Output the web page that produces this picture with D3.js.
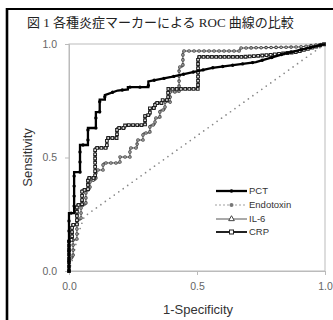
<!DOCTYPE html>
<html>
<head>
<meta charset="utf-8">
<script src="https://cdn.jsdelivr.net/npm/d3@7/dist/d3.min.js"></script>
<style>
  body { margin: 0; background: #fff; }
  svg { display: block; }
</style>
</head>
<body>
<div id="app"></div>
<script>
// ROC curves (x = 1-Specificity, y = Sensitivity)
const pctFpr = [0, 0, 0.02, 0.02, 0.043, 0.043, 0.074, 0.074, 0.105, 0.105, 0.12, 0.12, 0.14, 0.14, 0.19, 0.23, 0.23, 0.31, 0.31, 0.4, 0.56, 0.73, 0.85, 1]
const pctTpr = [0, 0.255, 0.255, 0.436, 0.436, 0.555, 0.555, 0.63, 0.63, 0.7, 0.7, 0.755, 0.755, 0.775, 0.795, 0.8, 0.81, 0.81, 0.835, 0.855, 0.895, 0.92, 0.96, 1]

const endoFpr = [0, 0.016, 0.031, 0.047, 0.06, 1]
const endoTpr = [0, 0.06, 0.14, 0.2, 0.24, 1]

const il6Fpr = [0, 0, 0.016, 0.016, 0.031, 0.031, 0.047, 0.047, 0.066, 0.066, 0.082, 0.082, 0.105, 0.105, 0.133, 0.133, 0.199, 0.199, 0.238, 0.238, 0.266, 0.266, 0.289, 0.289, 0.316, 0.316, 0.336, 0.336, 0.355, 0.355, 0.375, 0.375, 0.395, 0.395, 0.43, 0.43, 0.445, 0.445, 0.668, 0.668, 0.902, 1]
const il6Tpr = [0, 0.057, 0.057, 0.137, 0.137, 0.225, 0.225, 0.291, 0.291, 0.357, 0.357, 0.4, 0.4, 0.445, 0.445, 0.476, 0.476, 0.502, 0.502, 0.542, 0.542, 0.577, 0.577, 0.608, 0.608, 0.643, 0.643, 0.674, 0.674, 0.709, 0.709, 0.744, 0.744, 0.789, 0.789, 0.899, 0.899, 0.969, 0.969, 0.982, 0.987, 1]

const crpFpr = [0, 0, 0.012, 0.012, 0.031, 0.031, 0.051, 0.051, 0.074, 0.074, 0.102, 0.102, 0.148, 0.148, 0.1875, 0.1875, 0.219, 0.219, 0.297, 0.297, 0.316, 0.316, 0.336, 0.336, 0.363, 0.363, 0.387, 0.387, 0.504, 0.504, 0.68, 0.785, 0.89, 1]
const crpTpr = [0, 0.137, 0.137, 0.203, 0.203, 0.291, 0.291, 0.357, 0.357, 0.41, 0.41, 0.542, 0.542, 0.586, 0.586, 0.63, 0.63, 0.643, 0.643, 0.687, 0.687, 0.718, 0.718, 0.74, 0.74, 0.753, 0.753, 0.802, 0.802, 0.943, 0.943, 0.952, 0.965, 1]

const tickValues = [0, 0.5, 1]
const seriesNames = ['PCT', 'Endotoxin', 'IL-6', 'CRP']
const titleText = '図 1 各種炎症マーカーによる ROC 曲線の比較'

const width = 333
const height = 320
const sans = '"Liberation Sans", Arial, sans-serif'

const svg = d3.select('#app').append('svg')
  .attr('width', width)
  .attr('height', height)
  .attr('viewBox', `0 0 ${width} ${height}`)

// frame of the figure (left + top edge)
svg.append('line').attr('x1', 7).attr('x2', 7).attr('y1', 8).attr('y2', height)
  .attr('stroke', '#000').attr('stroke-width', 2.6)
svg.append('line').attr('x1', 6).attr('x2', width).attr('y1', 9).attr('y2', 9)
  .attr('stroke', '#000').attr('stroke-width', 2)

svg.append('text')
  .attr('x', 27).attr('y', 27)
  .attr('font-family', '"Liberation Serif", "Noto Sans CJK JP", serif')
  .attr('font-size', 13)
  .attr('fill', '#222')
  .text(titleText)

const x = d3.scaleLinear().domain([0, 1]).range([69, 325])
const y = d3.scaleLinear().domain([0, 1]).range([271, 44])

// plot box
svg.append('rect')
  .attr('x', x(0)).attr('y', y(1))
  .attr('width', x(1) - x(0)).attr('height', y(0) - y(1))
  .attr('fill', 'none').attr('stroke', '#bbb').attr('stroke-width', 1)

const fmt = d3.format('.1f')
const yAxis = svg.append('g')
  .attr('transform', `translate(${x(0)},0)`)
  .call(d3.axisLeft(y).tickValues(tickValues).tickFormat(fmt).tickSize(4).tickPadding(8))
const xAxis = svg.append('g')
  .attr('transform', `translate(0,${y(0)})`)
  .call(d3.axisBottom(x).tickValues(tickValues).tickFormat(fmt).tickSize(4).tickPadding(8))

for (const g of [xAxis, yAxis]) {
  g.select('.domain').attr('stroke', '#bbb')
  g.selectAll('.tick line').attr('stroke', '#bbb')
  g.selectAll('.tick text')
    .attr('font-family', sans).attr('font-size', 10.5).attr('fill', '#666')
}

svg.append('text')
  .attr('x', 198).attr('y', 314)
  .attr('text-anchor', 'middle')
  .attr('font-family', sans).attr('font-size', 13).attr('fill', '#333')
  .text('1-Specificity')
svg.append('text')
  .attr('transform', `translate(32,${(y(0) + y(1)) / 2}) rotate(-90)`)
  .attr('text-anchor', 'middle')
  .attr('font-family', sans).attr('font-size', 13).attr('fill', '#333')
  .text('Sensitivity')

const line = d3.line().x((d) => x(d[0])).y((d) => y(d[1]))
const pts = (f, t) => f.map((v, i) => [v, t[i]])

const plot = svg.append('g')

// Endotoxin: dotted grey
plot.append('path')
  .attr('d', line(pts(endoFpr, endoTpr)))
  .attr('fill', 'none').attr('stroke', '#888').attr('stroke-width', 1.7)
  .attr('stroke-dasharray', '0 5.5').attr('stroke-linecap', 'round')

// IL-6: thin line with small markers
const il6d = line(pts(il6Fpr, il6Tpr))
plot.append('path').attr('d', il6d)
  .attr('fill', 'none').attr('stroke', '#444').attr('stroke-width', 1)
plot.append('path').attr('d', il6d)
  .attr('fill', 'none').attr('stroke', '#444').attr('stroke-width', 3.6)
  .attr('stroke-dasharray', '0 5').attr('stroke-linecap', 'round')
plot.append('path').attr('d', il6d)
  .attr('fill', 'none').attr('stroke', '#fff').attr('stroke-width', 1.4)
  .attr('stroke-dasharray', '0 5').attr('stroke-linecap', 'round')

// CRP: solid line with open squares
const crpd = line(pts(crpFpr, crpTpr))
plot.append('path').attr('d', crpd)
  .attr('fill', 'none').attr('stroke', '#222').attr('stroke-width', 1.6)
plot.append('path').attr('d', crpd)
  .attr('fill', 'none').attr('stroke', '#222').attr('stroke-width', 3.8)
  .attr('stroke-dasharray', '0 4.2').attr('stroke-linecap', 'square')
plot.append('path').attr('d', crpd)
  .attr('fill', 'none').attr('stroke', '#fff').attr('stroke-width', 1.6)
  .attr('stroke-dasharray', '0 4.2').attr('stroke-linecap', 'square')

// PCT: thick black with small dots
const pctd = line(pts(pctFpr, pctTpr))
plot.append('path').attr('d', pctd)
  .attr('fill', 'none').attr('stroke', '#000').attr('stroke-width', 2.3)
  .attr('stroke-linejoin', 'miter')
plot.append('path').attr('d', pctd)
  .attr('fill', 'none').attr('stroke', '#000').attr('stroke-width', 3.4)
  .attr('stroke-dasharray', '0 10').attr('stroke-linecap', 'round')

// legend
const legendY = [191, 205, 219, 232]
const lx0 = 216
const lx1 = 247
const legend = svg.append('g')
seriesNames.forEach((name, i) => {
  const g = legend.append('g').attr('transform', `translate(0,${legendY[i]})`)
  const ln = g.append('line').attr('x1', lx0).attr('x2', lx1).attr('y1', 0).attr('y2', 0)
  const cx = (lx0 + lx1) / 2
  if (name === 'PCT') {
    ln.attr('stroke', '#000').attr('stroke-width', 2.3)
    g.append('circle').attr('cx', cx).attr('r', 1.8).attr('fill', '#000')
  } else if (name === 'Endotoxin') {
    ln.attr('stroke', '#888').attr('stroke-width', 1.5)
      .attr('stroke-dasharray', '0 4').attr('stroke-linecap', 'round')
    g.append('circle').attr('cx', cx).attr('r', 2).attr('fill', '#777')
  } else if (name === 'IL-6') {
    ln.attr('stroke', '#555').attr('stroke-width', 1)
    g.append('path')
      .attr('d', d3.symbol(d3.symbolTriangle, 14)())
      .attr('transform', `translate(${cx},0)`)
      .attr('fill', '#fff').attr('stroke', '#444').attr('stroke-width', 1)
  } else {
    ln.attr('stroke', '#222').attr('stroke-width', 2)
    g.append('rect').attr('x', cx - 2).attr('y', -2).attr('width', 4).attr('height', 4)
      .attr('fill', '#fff').attr('stroke', '#222').attr('stroke-width', 1)
  }
  g.append('text')
    .attr('x', lx1 + 2).attr('y', 0).attr('dy', '0.35em')
    .attr('font-family', sans).attr('font-size', 9.5).attr('fill', '#333')
    .text(name)
})
</script>
</body>
</html>
